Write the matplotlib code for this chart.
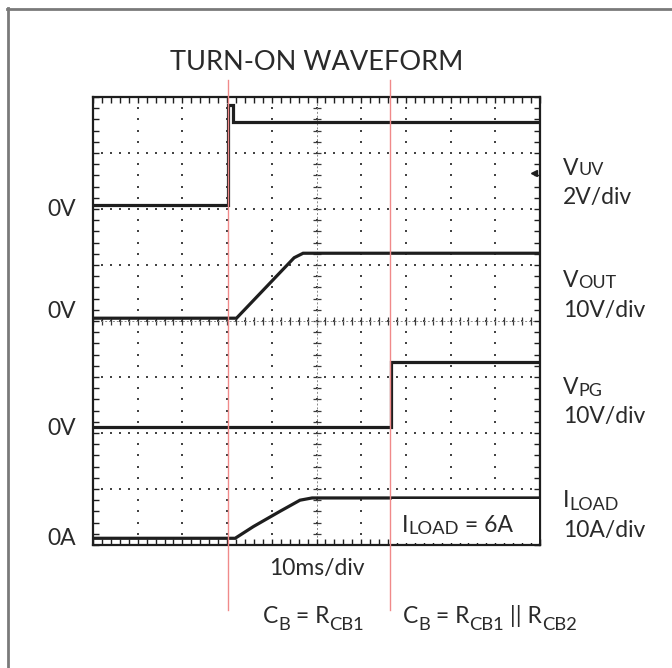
import numpy as np
import matplotlib
matplotlib.use("Agg")
import matplotlib.pyplot as plt
from matplotlib.lines import Line2D
from matplotlib.patches import Rectangle

plt.rcParams["font.family"] = ["Lato", "DejaVu Sans"]

W, H = 672, 668

# time in ms (10 ms/div), levels in scope divisions (0..8 from bottom)
t_uv = [0, 30.2, 30.2, 31.4, 31.4, 100]
v_uv = [6.08, 6.08, 7.86, 7.86, 7.55, 7.55]

t_out = [0, 32.1, 45.0, 47.0, 100]
v_out = [4.05, 4.05, 5.13, 5.21, 5.21]

t_pg = [0, 66.6, 66.6, 100]
v_pg = [2.11, 2.11, 3.27, 3.27]

t_load = [0, 31.8, 35.9, 41.8, 46.3, 49.0, 100]
v_load = [0.12, 0.12, 0.33, 0.60, 0.80, 0.84, 0.84]

marker_times = [30.2, 66.4]  # red cursors

# (main, subscript, scale) name pieces, per-division scale, baselines, sub drop
right_labels = [("V", "UV", "2V/div", 175, 204, 0),
                ("V", "OUT", "10V/div", 287, 317, 1),
                ("V", "PG", "10V/div", 394, 423, 2),
                ("I", "LOAD", "10A/div", 507, 537, 3)]
left_labels = [("0V", 216), ("0V", 318), ("0V", 435), ("0A", 545)]

FS = 16.5
TXT = "#2a2a2a"


def fx(x):
    return x / W


def fy(y):
    return 1 - y / H


fig = plt.figure(figsize=(W / 100, H / 100), dpi=100)
renderer = fig.canvas.get_renderer()


def rich(x, y, parts, fs=FS, ha="left"):
    # parts: (text, size factor, drop in px)
    arts = []
    cx = x
    for s, sc, drop in parts:
        t = fig.text(fx(cx), fy(y + drop), s, fontsize=fs * sc, color=TXT,
                     ha="left", va="baseline")
        cx += t.get_window_extent(renderer).width
        arts.append(t)
    if ha == "center":
        shift = (cx - x) / 2
        for t in arts:
            px, py = t.get_position()
            t.set_position((px - shift / W, py))
    return arts


ax = fig.add_axes([fx(93), fy(545), 447 / W, 448 / H])
ax.set_xlim(0, 100)
ax.set_ylim(0, 8)

ink = "#1e1e1e"
for s in ax.spines.values():
    s.set_linewidth(1.6)
    s.set_color(ink)

ax.set_xticks(np.arange(0, 101, 2), minor=True)
ax.set_yticks(np.arange(0, 8.01, 0.2), minor=True)
ax.set_xticks([])
ax.set_yticks([])
ax.tick_params(which="minor", direction="in", length=4, width=1.0,
               color=ink, top=True, right=True, labelbottom=False, labelleft=False)

# dotted graticule
xs_dot = np.arange(0, 101, 2)
ys_dot = np.arange(0, 8.01, 0.2)
for gx in range(10, 100, 10):
    ax.plot(np.full(len(ys_dot), gx), ys_dot, ls="none", marker="s", ms=1.6,
            color="#444444", mew=0, zorder=1)
for gy in range(1, 8):
    ax.plot(xs_dot, np.full(len(xs_dot), gy), ls="none", marker="s", ms=1.6,
            color="#444444", mew=0, zorder=1)
# centre axes with ticks
ax.plot(xs_dot, np.full(len(xs_dot), 4), ls="none", marker="|", ms=6,
        color="#3a3a3a", mew=0.9, zorder=1)
ax.plot(np.full(len(ys_dot), 50), ys_dot, ls="none", marker="_", ms=6,
        color="#3a3a3a", mew=0.9, zorder=1)
ax.axhline(4, color="#888888", lw=0.7, ls=(0, (2, 2)), zorder=1)
ax.axvline(50, color="#888888", lw=0.7, ls=(0, (2, 2)), zorder=1)

# traces
for t, v in [(t_uv, v_uv), (t_out, v_out), (t_pg, v_pg), (t_load, v_load)]:
    ax.plot(t, v, color=ink, lw=2.3, solid_joinstyle="miter", zorder=3)
ax.plot([98.6], [6.64], marker="<", ms=4, color=ink, zorder=3)

# white box behind the load label
ax.add_patch(Rectangle((66.8, 0.03), 32.9, 0.79, facecolor="white",
                       edgecolor="none", zorder=3.5))

# red cursors
for mt in marker_times:
    ax.plot([mt, mt], [8.30, -1.16], color="#f08a8a", lw=1.0, clip_on=False,
            zorder=5)

fig.text(fx(317), fy(70), "TURN-ON WAVEFORM", fontsize=19.5, ha="center",
         va="baseline", color=TXT)
fig.text(fx(317), fy(575), "10ms/div", fontsize=FS, ha="center",
         va="baseline", color=TXT)

rich(402, 532, [("I", 1, 0), ("LOAD", 0.8, 2), (" = 6A", 1, 0)])
rich(263, 623, [("C", 1, 0), ("B", 0.8, 7), (" = R", 1, 0), ("CB1", 0.8, 7)])
rich(403, 623, [("C", 1, 0), ("B", 0.8, 7), (" = R", 1, 0), ("CB1", 0.8, 7),
                (" || R", 1, 0), ("CB2", 0.8, 7)])

for main, sub, scale, y1, y2, drop in right_labels:
    rich(563, y1, [(main, 1, 0), (sub, 0.78, drop)])
    fig.text(fx(563), fy(y2), scale, fontsize=FS, ha="left", va="baseline",
             color=TXT)

for lab, y in left_labels:
    fig.text(fx(76), fy(y), lab, fontsize=FS, ha="right", va="baseline",
             color=TXT)

# outer frame (top and left edges only visible)
fig.add_artist(Line2D([fx(7), 1], [fy(8.5), fy(8.5)], color="#7a7a7a", lw=2.0))
fig.add_artist(Line2D([fx(8), fx(8)], [fy(7.5), 0], color="#7a7a7a", lw=2.0))

fig.savefig("out.png", dpi=100)
